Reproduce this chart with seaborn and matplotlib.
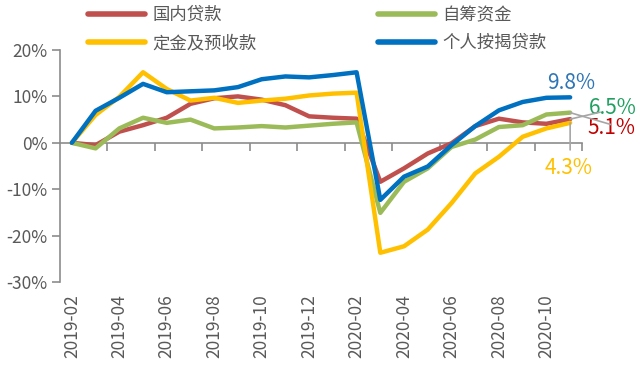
import numpy as np
import pandas as pd
import matplotlib
matplotlib.use("Agg")
import matplotlib.pyplot as plt
import seaborn as sns

# month categories (2019-02 .. 2020-11)
months = ["2019-02", "2019-03", "2019-04", "2019-05", "2019-06", "2019-07",
          "2019-08", "2019-09", "2019-10", "2019-11", "2019-12", "2020-01",
          "2020-02", "2020-03", "2020-04", "2020-05", "2020-06", "2020-07",
          "2020-08", "2020-09", "2020-10", "2020-11"]

series_names = ["国内贷款", "自筹资金", "定金及预收款", "个人按揭贷款"]

domestic_loans = [0, -0.5, 2.4, 3.8, 5.4, 8.4, 9.6, 10.0, 9.3, 8.1, 5.7, 5.4,
                  5.2, -8.4, -5.5, -2.3, -0.1, 3.6, 5.2, 4.4, 4.1, 5.1]
self_raised = [0, -1.2, 3.1, 5.4, 4.3, 5.0, 3.1, 3.3, 3.6, 3.3, 3.7, 4.1,
               4.4, -15.1, -8.4, -5.5, -0.9, 0.7, 3.4, 3.8, 6.1, 6.5]
deposits = [0, 6.0, 9.9, 15.2, 11.6, 9.1, 9.7, 8.6, 9.1, 9.5, 10.2, 10.6,
            10.8, -23.7, -22.3, -18.7, -13.0, -6.6, -3.0, 1.3, 3.1, 4.3]
mortgages = [0, 6.9, 9.7, 12.7, 10.9, 11.1, 11.3, 12.0, 13.7, 14.3, 14.1, 14.6,
             15.2, -12.3, -7.3, -5.1, -0.5, 3.6, 7.0, 8.8, 9.7, 9.8]

colors = ["#C0504D", "#9BBB59", "#FFC000", "#0070C0"]
label_colors = ["#C00000", "#20A060", "#FFC000", "#2E75B6"]
text_gray = "#595959"
axis_gray = "#8C8C8C"

df = pd.DataFrame({
    "idx": np.tile(np.arange(len(months)), 4),
    "value": domestic_loans + self_raised + deposits + mortgages,
    "series": np.repeat(series_names, len(months)),
})

sns.set_style("white")
plt.rcParams["font.family"] = ["Noto Sans CJK SC", "DejaVu Sans"]

fig = plt.figure(figsize=(6.4, 3.7), dpi=100)
ax = fig.add_axes([60 / 640, 1 - 282 / 370, (582 - 60) / 640, (282 - 50) / 370])

sns.lineplot(data=df, x="idx", y="value", hue="series", hue_order=series_names,
             palette=colors, linewidth=3.2, ax=ax)

ax.set_xlim(-0.5, len(months) - 0.5)
ax.set_ylim(-30, 20)
ax.set_yticks(range(-30, 21, 10))
ax.set_yticklabels([f"{v}%" for v in range(-30, 21, 10)])
ax.set_xticks(range(0, len(months), 2))
ax.set_xticklabels(months[::2], rotation=90)
ax.set_xlabel("")
ax.set_ylabel("")

for s in ["top", "right", "bottom"]:
    ax.spines[s].set_visible(False)
ax.spines["left"].set_color(axis_gray)
ax.spines["left"].set_linewidth(1.2)
ax.tick_params(axis="y", direction="out", length=6, width=1.2, color=axis_gray,
               labelcolor=text_gray, labelsize=12.5, pad=3, left=True)
ax.tick_params(axis="x", length=0, labelcolor=text_gray, labelsize=12.5, pad=9)

# zero line with tick marks between the category pairs
sec = ax.secondary_xaxis(30 / 50)
sec.set_xticks(np.arange(1.5, len(months), 2))
sec.tick_params(direction="in", length=6, width=1.2, color=axis_gray,
                labeltop=False, labelbottom=False)
for s in sec.spines.values():
    s.set_color(axis_gray)
    s.set_linewidth(1.2)

# end-of-line labels
last = len(months) - 1
end_vals = [domestic_loans[-1], self_raised[-1], deposits[-1], mortgages[-1]]
text_offsets = [(29.5, -6.3), (31, 3.5), (-1.4, -32.4), (0.7, 10.4)]
for val, col, off in zip(end_vals, label_colors, text_offsets):
    ax.annotate(f"{val:.1f}%", xy=(last, val), xytext=off, textcoords="offset points",
                ha="center", va="center", color=col, fontsize=15,
                annotation_clip=False)

# leader lines
leader_offsets = [(21.6, 5.0), (29.5, -8.6), (0, -19.5)]
for val, off in zip(end_vals[:3], leader_offsets):
    ax.annotate("", xy=(last, val), xytext=off, textcoords="offset points",
                arrowprops=dict(arrowstyle="-", color="#A6A6A6", lw=1.2,
                                shrinkA=0, shrinkB=0),
                annotation_clip=False)

handles, labels = ax.get_legend_handles_labels()
ax.get_legend().remove()
order = [0, 2, 1, 3]
leg = fig.legend([handles[i] for i in order], [labels[i] for i in order], ncol=2,
                 loc="upper left", bbox_to_anchor=(88 / 640, 1 - 6 / 370),
                 frameon=False, fontsize=12.5, handlelength=3.3, handletextpad=0.4,
                 columnspacing=7.0, labelspacing=0.58, borderpad=0, borderaxespad=0,
                 labelcolor=text_gray)
for line in leg.get_lines():
    line.set_linewidth(4)

fig.savefig("out.png", dpi=100)
